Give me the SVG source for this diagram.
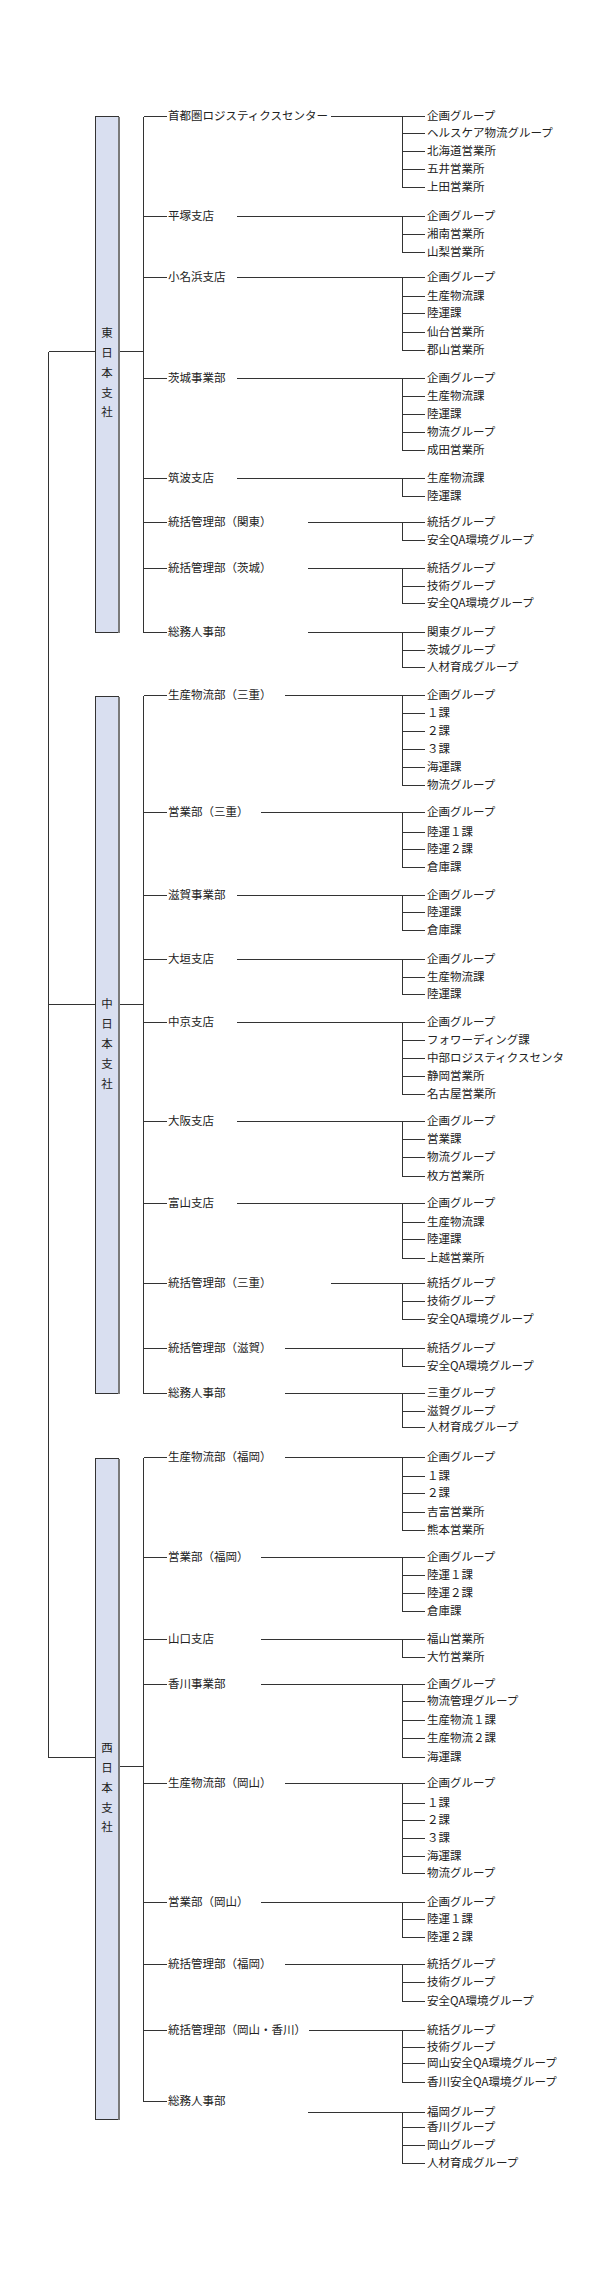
<svg xmlns="http://www.w3.org/2000/svg" width="600" height="2287" viewBox="0 0 600 2287">
<defs>
<style>
text{font-family:"Noto Sans CJK JP","Noto Sans",sans-serif;font-size:11.5px;fill:#222}
.c{fill:none;stroke:#333;stroke-width:1;shape-rendering:crispEdges}
.box{fill:#d9dff0;stroke:#333;stroke-width:1;shape-rendering:crispEdges}
.sh{fill:none;stroke:#7a7a7a;stroke-width:2;shape-rendering:crispEdges}
.v{text-anchor:middle}
</style>
<clipPath id="clipR"><rect x="0" y="0" width="563" height="2287"/></clipPath>
</defs>
<rect width="600" height="2287" fill="#fff"/>
<g id="connectors">
<path class="c" d="M48.5 351.5V1757.5M48.5 351.5H95M48.5 1004.5H95M48.5 1757.5H95M119 351.5H143.5M119 1004.5H143.5M119 1766.5H143.5"/>
<!-- East L2 -->
<path class="c" d="M143.5 116.5V632.5M143.5 116.5H167M143.5 216.5H167M143.5 277.5H167M143.5 378.5H167M143.5 478.5H167M143.5 522.5H167M143.5 568.5H167M143.5 632.5H167"/>
<!-- East L3 -->
<path class="c" d="M331 116.5H402.5M402.5 116.5V187.5M402.5 116.5H425M402.5 133.5H425M402.5 151.5H425M402.5 169.5H425M402.5 187.5H425"/>
<path class="c" d="M237 216.5H402.5M402.5 216.5V252.5M402.5 216.5H425M402.5 234.5H425M402.5 252.5H425"/>
<path class="c" d="M237 277.5H402.5M402.5 277.5V350.5M402.5 277.5H425M402.5 296.5H425M402.5 313.5H425M402.5 332.5H425M402.5 350.5H425"/>
<path class="c" d="M237 378.5H402.5M402.5 378.5V450.5M402.5 378.5H425M402.5 396.5H425M402.5 414.5H425M402.5 432.5H425M402.5 450.5H425"/>
<path class="c" d="M237 478.5H402.5M402.5 478.5V496.5M402.5 478.5H425M402.5 496.5H425"/>
<path class="c" d="M308 522.5H402.5M402.5 522.5V540.5M402.5 522.5H425M402.5 540.5H425"/>
<path class="c" d="M308 568.5H402.5M402.5 568.5V603.5M402.5 568.5H425M402.5 586.5H425M402.5 603.5H425"/>
<path class="c" d="M308 632.5H402.5M402.5 632.5V667.5M402.5 632.5H425M402.5 650.5H425M402.5 667.5H425"/>
<!-- Middle L2 -->
<path class="c" d="M143.5 695.5V1393.5M143.5 695.5H167M143.5 812.5H167M143.5 895.5H167M143.5 959.5H167M143.5 1022.5H167M143.5 1121.5H167M143.5 1203.5H167M143.5 1283.5H167M143.5 1348.5H167M143.5 1393.5H167"/>
<!-- Middle L3 -->
<path class="c" d="M285 695.5H402.5M402.5 695.5V785.5M402.5 695.5H425M402.5 713.5H425M402.5 731.5H425M402.5 749.5H425M402.5 767.5H425M402.5 785.5H425"/>
<path class="c" d="M261 812.5H402.5M402.5 812.5V867.5M402.5 812.5H425M402.5 832.5H425M402.5 849.5H425M402.5 867.5H425"/>
<path class="c" d="M237 895.5H402.5M402.5 895.5V930.5M402.5 895.5H425M402.5 912.5H425M402.5 930.5H425"/>
<path class="c" d="M237 959.5H402.5M402.5 959.5V994.5M402.5 959.5H425M402.5 977.5H425M402.5 994.5H425"/>
<path class="c" d="M237 1022.5H402.5M402.5 1022.5V1094.5M402.5 1022.5H425M402.5 1040.5H425M402.5 1058.5H425M402.5 1076.5H425M402.5 1094.5H425"/>
<path class="c" d="M237 1121.5H402.5M402.5 1121.5V1176.5M402.5 1121.5H425M402.5 1139.5H425M402.5 1157.5H425M402.5 1176.5H425"/>
<path class="c" d="M237 1203.5H402.5M402.5 1203.5V1258.5M402.5 1203.5H425M402.5 1222.5H425M402.5 1239.5H425M402.5 1258.5H425"/>
<path class="c" d="M331 1283.5H402.5M402.5 1283.5V1319.5M402.5 1283.5H425M402.5 1301.5H425M402.5 1319.5H425"/>
<path class="c" d="M285 1348.5H402.5M402.5 1348.5V1366.5M402.5 1348.5H425M402.5 1366.5H425"/>
<path class="c" d="M285 1393.5H402.5M402.5 1393.5V1427.5M402.5 1393.5H425M402.5 1411.5H425M402.5 1427.5H425"/>
<!-- West L2 -->
<path class="c" d="M143.5 1457.5V2101.5M143.5 1457.5H167M143.5 1557.5H167M143.5 1639.5H167M143.5 1684.5H167M143.5 1783.5H167M143.5 1902.5H167M143.5 1964.5H167M143.5 2030.5H167M143.5 2101.5H167"/>
<!-- West L3 -->
<path class="c" d="M285 1457.5H402.5M402.5 1457.5V1530.5M402.5 1457.5H425M402.5 1476.5H425M402.5 1493.5H425M402.5 1512.5H425M402.5 1530.5H425"/>
<path class="c" d="M261 1557.5H402.5M402.5 1557.5V1611.5M402.5 1557.5H425M402.5 1575.5H425M402.5 1593.5H425M402.5 1611.5H425"/>
<path class="c" d="M261 1639.5H402.5M402.5 1639.5V1657.5M402.5 1639.5H425M402.5 1657.5H425"/>
<path class="c" d="M261 1684.5H402.5M402.5 1684.5V1757.5M402.5 1684.5H425M402.5 1701.5H425M402.5 1720.5H425M402.5 1738.5H425M402.5 1757.5H425"/>
<path class="c" d="M285 1783.5H402.5M402.5 1783.5V1873.5M402.5 1783.5H425M402.5 1803.5H425M402.5 1820.5H425M402.5 1838.5H425M402.5 1856.5H425M402.5 1873.5H425"/>
<path class="c" d="M261 1902.5H402.5M402.5 1902.5V1937.5M402.5 1902.5H425M402.5 1919.5H425M402.5 1937.5H425"/>
<path class="c" d="M285 1964.5H402.5M402.5 1964.5V2001.5M402.5 1964.5H425M402.5 1982.5H425M402.5 2001.5H425"/>
<path class="c" d="M309 2030.5H402.5M402.5 2030.5V2082.5M402.5 2030.5H425M402.5 2047.5H425M402.5 2063.5H425M402.5 2082.5H425"/>
<path class="c" d="M308 2112.5H402.5M402.5 2112.5V2163.5M402.5 2112.5H425M402.5 2127.5H425M402.5 2145.5H425M402.5 2163.5H425"/>
</g>

<g id="east">
<rect class="box" x="95.5" y="116.5" width="23" height="516"/>
<line class="sh" x1="119" y1="117" x2="119" y2="633"/>
<text class="v"><tspan x="107" y="337">東</tspan><tspan x="107" y="356.5">日</tspan><tspan x="107" y="376.5">本</tspan><tspan x="107" y="396.5">支</tspan><tspan x="107" y="416">社</tspan></text>
</g>
<g id="middle">
<rect class="box" x="95.5" y="696.5" width="23" height="697"/>
<line class="sh" x1="119" y1="697" x2="119" y2="1394"/>
<text class="v"><tspan x="107" y="1008">中</tspan><tspan x="107" y="1028">日</tspan><tspan x="107" y="1048">本</tspan><tspan x="107" y="1068">支</tspan><tspan x="107" y="1087.5">社</tspan></text>
</g>
<g id="west">
<rect class="box" x="95.5" y="1458.5" width="23" height="661"/>
<line class="sh" x1="119" y1="1459" x2="119" y2="2120"/>
<text class="v"><tspan x="107" y="1752">西</tspan><tspan x="107" y="1772">日</tspan><tspan x="107" y="1792">本</tspan><tspan x="107" y="1811.5">支</tspan><tspan x="107" y="1831">社</tspan></text>
</g>

<!-- East departments -->
<g id="e1"><text x="168" y="120">首都圏ロジスティクスセンター</text></g>
<g id="e1-c"><text x="427" y="120">企画グループ</text><text x="427" y="137">ヘルスケア物流グループ</text><text x="427" y="155">北海道営業所</text><text x="427" y="173">五井営業所</text><text x="427" y="191">上田営業所</text></g>
<g id="e2"><text x="168" y="220">平塚支店</text></g>
<g id="e2-c"><text x="427" y="220">企画グループ</text><text x="427" y="238">湘南営業所</text><text x="427" y="256">山梨営業所</text></g>
<g id="e3"><text x="168" y="281">小名浜支店</text></g>
<g id="e3-c"><text x="427" y="281">企画グループ</text><text x="427" y="300">生産物流課</text><text x="427" y="317">陸運課</text><text x="427" y="336">仙台営業所</text><text x="427" y="354">郡山営業所</text></g>
<g id="e4"><text x="168" y="382">茨城事業部</text></g>
<g id="e4-c"><text x="427" y="382">企画グループ</text><text x="427" y="400">生産物流課</text><text x="427" y="418">陸運課</text><text x="427" y="436">物流グループ</text><text x="427" y="454">成田営業所</text></g>
<g id="e5"><text x="168" y="482">筑波支店</text></g>
<g id="e5-c"><text x="427" y="482">生産物流課</text><text x="427" y="500">陸運課</text></g>
<g id="e6"><text x="168" y="526">統括管理部（関東）</text></g>
<g id="e6-c"><text x="427" y="526">統括グループ</text><text x="427" y="544">安全QA環境グループ</text></g>
<g id="e7"><text x="168" y="572">統括管理部（茨城）</text></g>
<g id="e7-c"><text x="427" y="572">統括グループ</text><text x="427" y="590">技術グループ</text><text x="427" y="607">安全QA環境グループ</text></g>
<g id="e8"><text x="168" y="636">総務人事部</text></g>
<g id="e8-c"><text x="427" y="636">関東グループ</text><text x="427" y="654">茨城グループ</text><text x="427" y="671">人材育成グループ</text></g>

<!-- Middle departments -->
<g id="m1"><text x="168" y="699">生産物流部（三重）</text></g>
<g id="m1-c"><text x="427" y="699">企画グループ</text><text x="427" y="717">１課</text><text x="427" y="735">２課</text><text x="427" y="753">３課</text><text x="427" y="771">海運課</text><text x="427" y="789">物流グループ</text></g>
<g id="m2"><text x="168" y="816">営業部（三重）</text></g>
<g id="m2-c"><text x="427" y="816">企画グループ</text><text x="427" y="836">陸運１課</text><text x="427" y="853">陸運２課</text><text x="427" y="871">倉庫課</text></g>
<g id="m3"><text x="168" y="899">滋賀事業部</text></g>
<g id="m3-c"><text x="427" y="899">企画グループ</text><text x="427" y="916">陸運課</text><text x="427" y="934">倉庫課</text></g>
<g id="m4"><text x="168" y="963">大垣支店</text></g>
<g id="m4-c"><text x="427" y="963">企画グループ</text><text x="427" y="981">生産物流課</text><text x="427" y="998">陸運課</text></g>
<g id="m5"><text x="168" y="1026">中京支店</text></g>
<g id="m5-c"><text x="427" y="1026">企画グループ</text><text x="427" y="1044">フォワーディング課</text><text x="427" y="1062" clip-path="url(#clipR)">中部ロジスティクスセンタ</text><text x="427" y="1080">静岡営業所</text><text x="427" y="1098">名古屋営業所</text></g>
<g id="m6"><text x="168" y="1125">大阪支店</text></g>
<g id="m6-c"><text x="427" y="1125">企画グループ</text><text x="427" y="1143">営業課</text><text x="427" y="1161">物流グループ</text><text x="427" y="1180">枚方営業所</text></g>
<g id="m7"><text x="168" y="1207">富山支店</text></g>
<g id="m7-c"><text x="427" y="1207">企画グループ</text><text x="427" y="1226">生産物流課</text><text x="427" y="1243">陸運課</text><text x="427" y="1262">上越営業所</text></g>
<g id="m8"><text x="168" y="1287">統括管理部（三重）</text></g>
<g id="m8-c"><text x="427" y="1287">統括グループ</text><text x="427" y="1305">技術グループ</text><text x="427" y="1323">安全QA環境グループ</text></g>
<g id="m9"><text x="168" y="1352">統括管理部（滋賀）</text></g>
<g id="m9-c"><text x="427" y="1352">統括グループ</text><text x="427" y="1370">安全QA環境グループ</text></g>
<g id="m10"><text x="168" y="1397">総務人事部</text></g>
<g id="m10-c"><text x="427" y="1397">三重グループ</text><text x="427" y="1415">滋賀グループ</text><text x="427" y="1431">人材育成グループ</text></g>

<!-- West departments -->
<g id="w1"><text x="168" y="1461">生産物流部（福岡）</text></g>
<g id="w1-c"><text x="427" y="1461">企画グループ</text><text x="427" y="1480">１課</text><text x="427" y="1497">２課</text><text x="427" y="1516">吉富営業所</text><text x="427" y="1534">熊本営業所</text></g>
<g id="w2"><text x="168" y="1561">営業部（福岡）</text></g>
<g id="w2-c"><text x="427" y="1561">企画グループ</text><text x="427" y="1579">陸運１課</text><text x="427" y="1597">陸運２課</text><text x="427" y="1615">倉庫課</text></g>
<g id="w3"><text x="168" y="1643">山口支店</text></g>
<g id="w3-c"><text x="427" y="1643">福山営業所</text><text x="427" y="1661">大竹営業所</text></g>
<g id="w4"><text x="168" y="1688">香川事業部</text></g>
<g id="w4-c"><text x="427" y="1688">企画グループ</text><text x="427" y="1705">物流管理グループ</text><text x="427" y="1724">生産物流１課</text><text x="427" y="1742">生産物流２課</text><text x="427" y="1761">海運課</text></g>
<g id="w5"><text x="168" y="1787">生産物流部（岡山）</text></g>
<g id="w5-c"><text x="427" y="1787">企画グループ</text><text x="427" y="1807">１課</text><text x="427" y="1824">２課</text><text x="427" y="1842">３課</text><text x="427" y="1860">海運課</text><text x="427" y="1877">物流グループ</text></g>
<g id="w6"><text x="168" y="1906">営業部（岡山）</text></g>
<g id="w6-c"><text x="427" y="1906">企画グループ</text><text x="427" y="1923">陸運１課</text><text x="427" y="1941">陸運２課</text></g>
<g id="w7"><text x="168" y="1968">統括管理部（福岡）</text></g>
<g id="w7-c"><text x="427" y="1968">統括グループ</text><text x="427" y="1986">技術グループ</text><text x="427" y="2005">安全QA環境グループ</text></g>
<g id="w8"><text x="168" y="2034">統括管理部（岡山・香川）</text></g>
<g id="w8-c"><text x="427" y="2034">統括グループ</text><text x="427" y="2051">技術グループ</text><text x="427" y="2067">岡山安全QA環境グループ</text><text x="427" y="2086">香川安全QA環境グループ</text></g>
<g id="w9"><text x="168" y="2105">総務人事部</text></g>
<g id="w9-c"><text x="427" y="2116">福岡グループ</text><text x="427" y="2131">香川グループ</text><text x="427" y="2149">岡山グループ</text><text x="427" y="2167">人材育成グループ</text></g>
</svg>
